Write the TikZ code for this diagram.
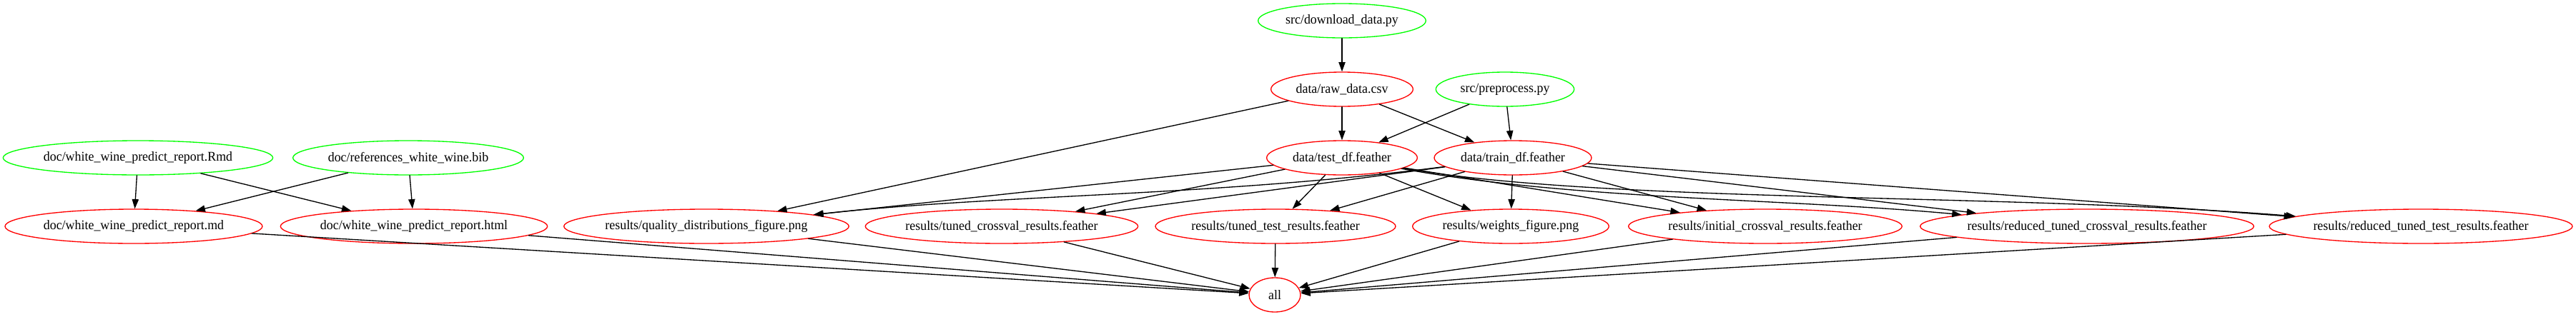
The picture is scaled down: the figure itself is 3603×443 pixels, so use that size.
\documentclass[tikz,border=0pt]{standalone}
\usepackage{fontspec}
\setmainfont[FakeStretch=0.96]{Liberation Serif}
\usetikzlibrary{shapes.geometric,arrows.meta}
\definecolor{gvgreen}{RGB}{0,255,0}
\definecolor{gvred}{RGB}{255,0,0}
\begin{document}
\begin{tikzpicture}[x=0.75pt, y=-0.75pt, font=\fontsize{14}{16}\selectfont, line join=round, line cap=round, >={Triangle[length=10pt,width=7pt]},
		fnode/.style={ellipse, draw, line width=1pt, inner xsep=-40pt, inner ysep=0pt, minimum height=36pt, minimum width=54pt},
		srcfile/.style={fnode, draw=gvgreen},
		outfile/.style={fnode, draw=gvred},
		dep/.style={->, line width=1pt}]
				\useasboundingbox (0,0) rectangle (3603,443);
				\node[srcfile, minimum width=176pt] (dl) at (1877,29) {src/download\_data.py};
				\node[outfile, minimum width=149pt] (raw) at (1877,125) {data/raw\_data.csv};
				\node[srcfile, minimum width=145pt] (pre) at (2105,125) {src/preprocess.py};
				\node[outfile, minimum width=158pt] (test) at (1877,221) {data/test\_df.feather};
				\node[outfile, minimum width=165pt] (train) at (2116,221) {data/train\_df.feather};
				\node[srcfile, minimum width=283pt] (rmd) at (193,221) {doc/white\_wine\_predict\_report.Rmd};
				\node[srcfile, minimum width=242pt] (bib) at (571,221) {doc/references\_white\_wine.bib};
				\node[outfile, minimum width=270pt] (md) at (187,317) {doc/white\_wine\_predict\_report.md};
				\node[outfile, minimum width=280pt] (html) at (579,317) {doc/white\_wine\_predict\_report.html};
				\node[outfile, minimum width=299pt] (qual) at (988,317) {results/quality\_distributions\_figure.png};
				\node[outfile, minimum width=286pt] (tcv) at (1401,317) {results/tuned\_crossval\_results.feather};
				\node[outfile, minimum width=252pt] (tt) at (1784,317) {results/tuned\_test\_results.feather};
				\node[outfile, minimum width=206pt] (wts) at (2113,317) {results/weights\_figure.png};
				\node[outfile, minimum width=287pt] (icv) at (2469,317) {results/initial\_crossval\_results.feather};
				\node[outfile, minimum width=350pt] (rtcv) at (2919,317) {results/reduced\_tuned\_crossval\_results.feather};
				\node[outfile, minimum width=318pt] (rtt) at (3386,317) {results/reduced\_tuned\_test\_results.feather};
				\node[outfile] (all) at (1783,413) {all};
				\foreach \s/\t in {dl/raw,raw/test,raw/train,raw/qual,pre/test,pre/train,rmd/md,rmd/html,bib/md,bib/html}\draw[dep] (\s)--(\t);
				\foreach \t in {qual,tcv,tt,wts,icv}\draw[dep] (test)--(\t);
				\foreach \t in {tcv,tt,wts,icv,rtcv,rtt}\draw[dep] (train)--(\t);
				\draw[dep] (train) .. controls (1700,275) and (1400,272) .. (qual);
				\draw[dep] (test) .. controls (2200,280) and (2500,278) .. (rtcv);
				\draw[dep] (test) .. controls (2250,285) and (2800,270) .. (rtt);
				\foreach \s in {md,html,qual,tcv,tt,wts,icv,rtcv,rtt}\draw[dep] (\s)--(all);
		\end{tikzpicture}
\end{document}
